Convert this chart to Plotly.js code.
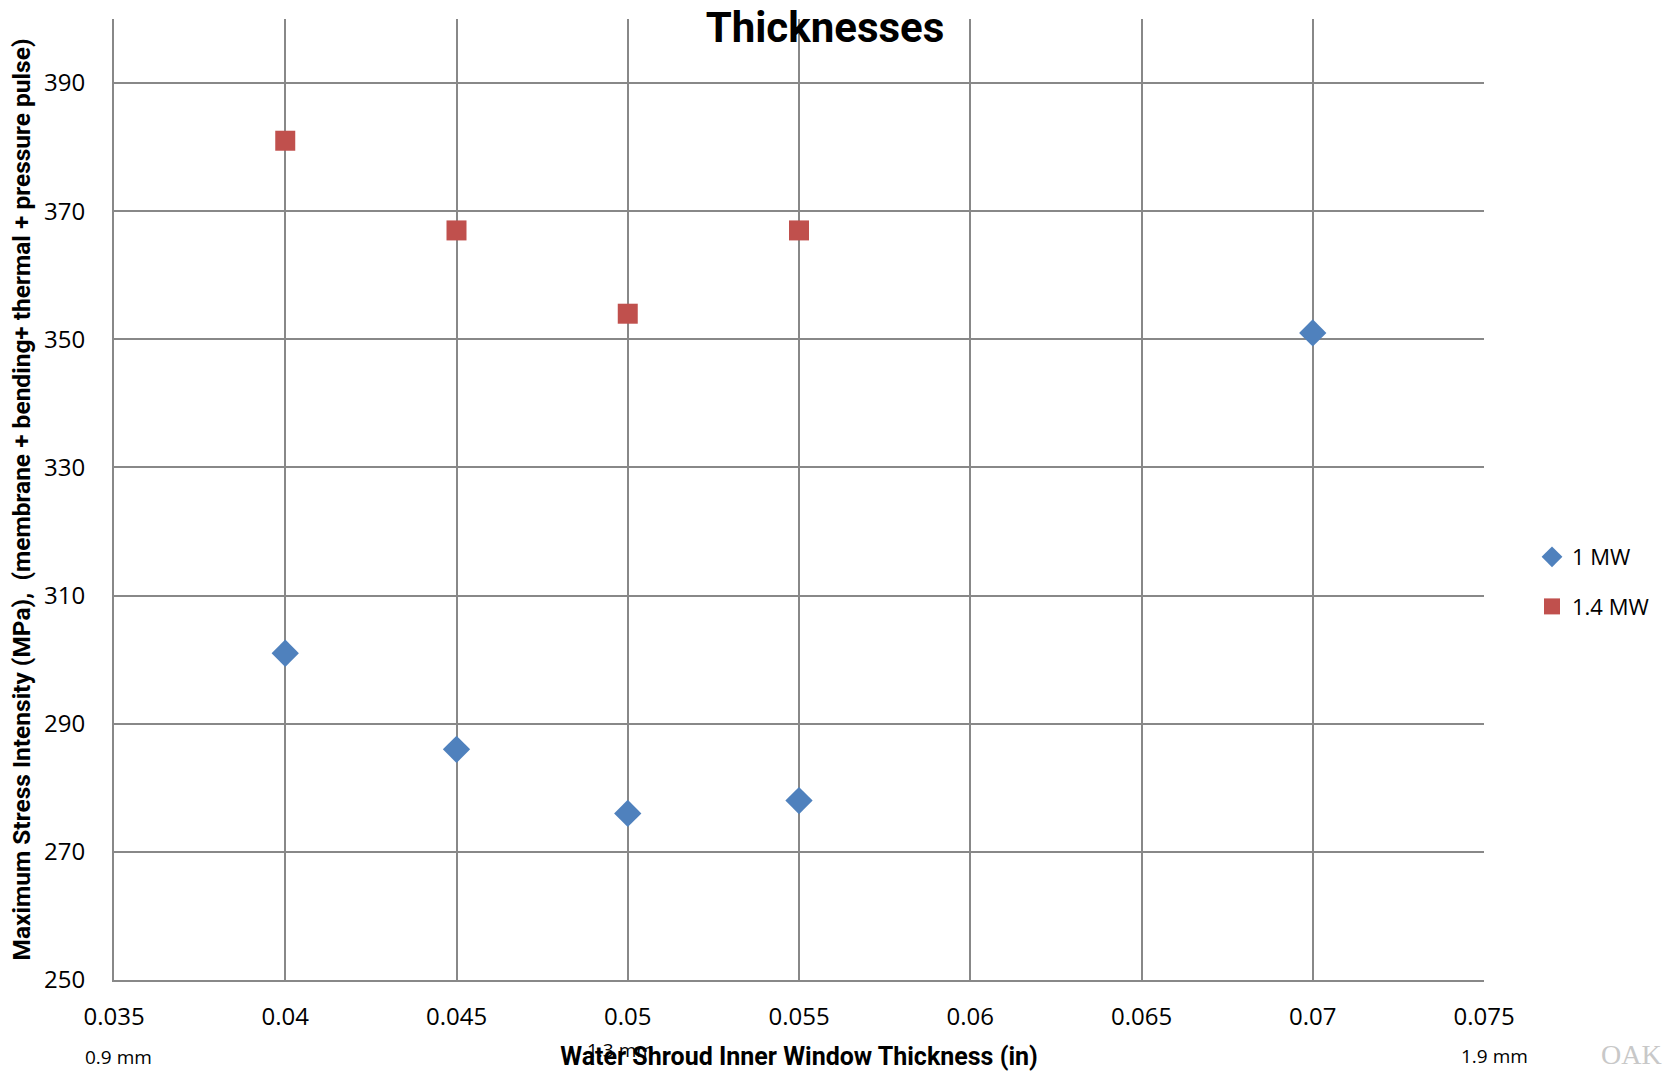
<!DOCTYPE html>
<html>
<head>
<meta charset="utf-8">
<script src="https://cdn.plot.ly/plotly-3.0.1.min.js"></script>
<style>
html,body{margin:0;padding:0;background:#fff;}
#chart{width:1667px;height:1071px;}
</style>
</head>
<body>
<div id="chart"></div>
<script>
// Data
const seriesNames = ["1 MW", "1.4 MW"];
const thickness1MW = [0.04, 0.045, 0.05, 0.055, 0.07];
const stress1MW = [301, 286, 276, 278, 351];
const thickness14MW = [0.04, 0.045, 0.05, 0.055];
const stress14MW = [381, 367, 354, 367];
const mmLabels = ["0.9 mm", "1.3 mm", "1.9 mm"];

const W = 1667, H = 1071;
const M = {l: 114, r: 183, t: 19, b: 91};
const pw = W - M.l - M.r, ph = H - M.t - M.b;
const px = x => (x - M.l) / pw;
const py = y => (H - M.b - y) / ph;

const tickFont = {family: "Open Sans, sans-serif", size: 24, color: "#000"};
const gridCol = "#888888";

const traces = [
  {
    x: thickness1MW, y: stress1MW, name: seriesNames[0],
    type: "scatter", mode: "markers",
    marker: {symbol: "diamond", size: 21, color: "#4F81BD"},
    legendgroup: "a"
  },
  {
    x: thickness14MW, y: stress14MW, name: seriesNames[1],
    type: "scatter", mode: "markers",
    marker: {symbol: "square", size: 20, color: "#C0504D"},
    legendgroup: "b"
  }
];

const layout = {
  width: W, height: H,
  margin: M,
  paper_bgcolor: "#fff", plot_bgcolor: "#fff",
  title: {
    text: "<b>Thicknesses</b>",
    font: {family: "Roboto, sans-serif", size: 42, color: "#000"},
    xref: "container", x: 825 / W, xanchor: "center",
    yref: "container", y: 1 - 27 / H, yanchor: "middle"
  },
  xaxis: {
    range: [0.035, 0.075], tick0: 0.035, dtick: 0.005,
    showgrid: true, gridcolor: gridCol, gridwidth: 2,
    showline: true, linecolor: gridCol, linewidth: 2,
    zeroline: false, ticks: "", ticklabelstandoff: 14,
    tickfont: tickFont,
    title: {
      text: "<b>Water Shroud Inner Window Thickness (in)</b>",
      font: {family: "Roboto, sans-serif", size: 25, color: "#000"},
      standoff: 17
    }
  },
  yaxis: {
    range: [250, 400], tick0: 250, dtick: 20,
    showgrid: true, gridcolor: gridCol, gridwidth: 2,
    showline: true, linecolor: gridCol, linewidth: 2,
    zeroline: false, ticks: "", ticklabelstandoff: 22,
    tickfont: tickFont,
    title: {
      text: "<b>Maximum Stress Intensity (MPa),\u00A0 (membrane + bending+ thermal + pressure pulse)</b>",
      font: {family: "Roboto, sans-serif", size: 24.5, color: "#000"},
      standoff: 6
    }
  },
  showlegend: true,
  legend: {
    x: px(1532), xanchor: "left",
    y: py(582), yanchor: "middle",
    font: {family: "Open Sans, sans-serif", size: 22, color: "#000"},
    traceorder: "grouped", tracegroupgap: 18,
    itemwidth: 30, bgcolor: "rgba(0,0,0,0)"
  },
  annotations: [
    {text: mmLabels[0], xref: "paper", yref: "paper", x: px(118), y: py(1057),
     xanchor: "center", yanchor: "middle", showarrow: false,
     font: {family: "Open Sans, sans-serif", size: 19, color: "#000"}},
    {text: mmLabels[1], xref: "paper", yref: "paper", x: px(620), y: py(1050),
     xanchor: "center", yanchor: "middle", showarrow: false,
     font: {family: "Open Sans, sans-serif", size: 19, color: "#000"}},
    {text: mmLabels[2], xref: "paper", yref: "paper", x: px(1494), y: py(1056),
     xanchor: "center", yanchor: "middle", showarrow: false,
     font: {family: "Open Sans, sans-serif", size: 19, color: "#000"}},
    {text: "OAK", xref: "paper", yref: "paper", x: px(1664), y: py(1054),
     xanchor: "right", yanchor: "middle", showarrow: false,
     font: {family: "Liberation Serif, serif", size: 28, color: "#c8c8c8"}}
  ]
};

Plotly.newPlot("chart", traces, layout, {displayModeBar: false, staticPlot: true});
</script>
</body>
</html>
